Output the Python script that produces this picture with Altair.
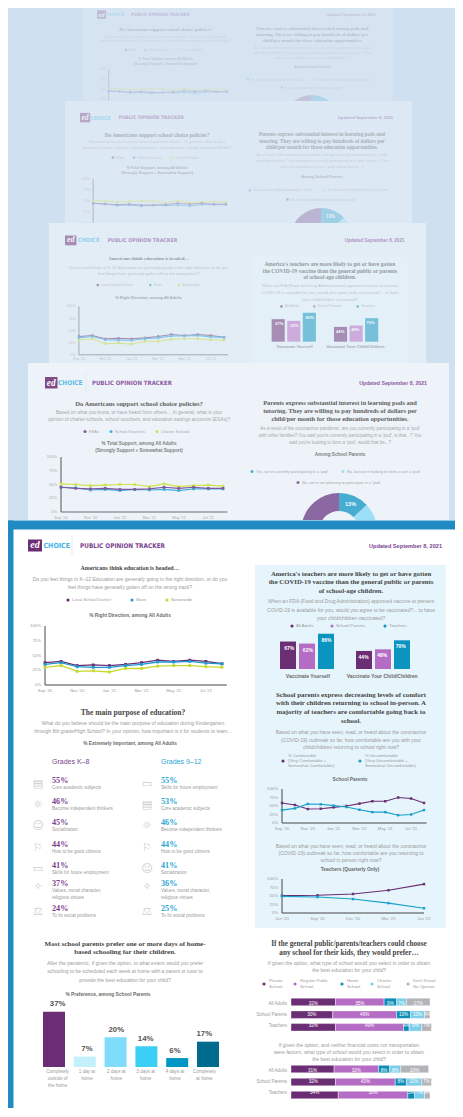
import altair as alt
import pandas as pd

# ---------------- DATA ----------------
months12 = ["Sep '20", "Oct '20", "Nov '20", "Dec '20", "Jan '21", "Feb '21",
            "Mar '21", "Apr '21", "May '21", "Jun '21", "Jul '21", "Aug '21"]
month_tick_idx = [0, 2, 4, 6, 8, 10]
month_ticks = ["Sep '20", "Nov '20", "Jan '21", "Mar '21", "May '21", "Jul '21"]
pct_tick_vals = [0, 25, 50, 75, 100]
pct_ticks = ["0%", "25%", "50%", "75%", "100%"]

direction_series = ["Local School District", "State", "Nationwide"]
direction_local = [38, 40, 33, 34, 33, 35, 38, 42, 40, 42, 40, 36]
direction_state = [35, 38, 31, 30, 30, 33, 35, 39, 39, 40, 37, 36]
direction_nation = [30, 33, 23, 24, 22, 28, 28, 32, 33, 33, 31, 30]

vaccine_questions = ["Vaccinate Yourself", "Vaccinate Your Child/Children"]
vaccine_groups = ["All Adults", "School Parents", "Teachers"]
vaccine_yourself = [67, 62, 86]
vaccine_child = [44, 48, 70]

comfort_series = [["% Comfortable", "(Very Comfortable +", "Somewhat Comfortable)"],
                  ["% Uncomfortable", "(Very Uncomfortable +", "Somewhat Uncomfortable)"]]
parents_comfortable = [59, 53, 41, 42, 46, 50, 57, 64, 64, 75, 72, 59]
parents_uncomfortable = [38, 43, 56, 55, 51, 47, 39, 32, 32, 23, 25, 38]
quarters = ["Jun '20", "Sep '20", "Dec '20", "Mar '21", "Jun '21"]
teachers_comfortable = [51, 52, 56, 67, 85]
teachers_uncomfortable = [49, 47, 41, 29, 14]

purpose_k8_labels = ["Core academic subjects", "Become independent thinkers", "Socialization",
                     "How to be good citizens", "Skills for future employment",
                     "Values, moral character,\nreligious virtues", "To fix social problems"]
purpose_k8_values = [55, 46, 45, 44, 41, 37, 24]
purpose_912_labels = ["Skills for future employment", "Core academic subjects",
                      "Become independent thinkers", "How to be good citizens", "Socialization",
                      "Values, moral character,\nreligious virtues", "To fix social problems"]
purpose_912_values = [55, 53, 46, 44, 41, 36, 25]

home_days = ["Completely\noutside of\nthe home", "1 day at\nhome", "2 days at\nhome",
             "3 days at\nhome", "4 days at\nhome", "Completely\nat home"]
home_values = [37, 7, 20, 14, 6, 17]

school_types = ["Private\nSchool", "Regular Public\nSchool", "Home\nSchool", "Charter\nSchool",
                "Don't Know/\nNo Opinion"]
respondents = ["All Adults", "School Parents", "Teachers"]
prefer_adults = [32, 35, 9, 7, 17]
prefer_parents = [30, 46, 10, 10, 4]
prefer_teachers = [32, 49, 4, 9, 7]
free_adults = [31, 32, 8, 8, 20]
free_parents = [32, 43, 8, 11, 7]
free_teachers = [34, 50, 5, 7, 4]

support_series = ["ESAs", "School Vouchers", "Charter Schools"]
support_esa = [45, 43, 42, 43, 41, 41, 42, 45, 43, 45, 43, 43]
support_vouchers = [45, 44, 40, 41, 39, 41, 40, 41, 39, 42, 42, 42]
support_charter = [51, 50, 48, 49, 50, 50, 46, 51, 46, 48, 49, 47]

pod_labels = ["Yes, we're currently participating in a 'pod'",
              "No, but we're looking to form or join a 'pod'",
              "No, we're not planning to participate in a 'pod'"]
pod_values = [13, 20, 67]

# ---------------- STYLE ----------------
SANS = "Liberation Sans, Arial, sans-serif"
SERIF = "Liberation Serif, Times New Roman, serif"
COND = "Liberation Sans Narrow, DejaVu Sans Condensed, sans-serif"
ICONF = "DejaVu Sans"
OFF = 8
BG = "#cfe1f0"
PURPLE = "#6b2d73"
HDR = "#7b3f91"
TITLE_C = "#454545"
SUB_C = "#9b9b9b"
CT_C = "#6a6a6a"
SUB_FS = 5.0
C_LOCAL, C_STATE, C_NATION = "#6b2d73", "#1e9ad0", "#c6db2e"
VAX_COLORS = ["#6b2d73", "#b56cc4", "#0a94bf"]
COMFORT_COLORS = ["#6b2d73", "#16a0cb"]
HOME_COLORS = ["#6b2d73", "#c4f0fc", "#7fdcfa", "#3ccff6", "#0096c6", "#006b8c"]
SCHOOL_COLORS = ["#6b2d73", "#b56cc4", "#0b8cb8", "#7ccde9", "#b3b3b8"]
SUPPORT_COLORS = ["#6b3d8e", "#29a4d8", "#c9df2c"]
POD_COLORS = ["#2a9fcb", "#8fdcf7", "#7b4f93"]
ICONS = {"Core academic subjects": "▤", "Become independent thinkers": "☼",
         "Socialization": "☺", "How to be good citizens": "⚐",
         "Skills for future employment": "▭",
         "Values, moral character,\nreligious virtues": "✧",
         "To fix social problems": "⚖"}


def mix(c, bg, f):
    c = c.lstrip("#"); bg = bg.lstrip("#")
    a = [int(c[i:i + 2], 16) for i in (0, 2, 4)]
    b = [int(bg[i:i + 2], 16) for i in (0, 2, 4)]
    return "#%02x%02x%02x" % tuple(round(a[i] * (1 - f) + b[i] * f) for i in range(3))


def rect_layer(x0, y0, x1, y1, col):
    df = pd.DataFrame({"x": [x0], "x2": [x1], "y": [y0], "y2": [y1]})
    return alt.Chart(df).mark_rect(color=col).encode(
        x=alt.X("x:Q", scale=None, axis=None), x2="x2:Q",
        y=alt.Y("y:Q", scale=None, axis=None), y2="y2:Q")


class Page:
    def __init__(self, ox, oy, sc, fx, fy, fade, bg):
        self.ox, self.oy, self.sc, self.fx, self.fy = ox, oy, sc, fx, fy
        self.fade, self.bg = fade, bg
        self.texts = []
        self.layers = []

    def X(self, v):
        return self.ox + self.sc * (v - self.fx) - OFF

    def Y(self, v):
        return self.oy + self.sc * (v - self.fy) - OFF

    def S(self, v):
        return v * self.sc

    def C(self, c):
        return mix(c, self.bg, self.fade)

    def sheet(self, x0, y0, x1, y1, fill):
        self.layers.append(rect_layer(x0 - OFF, y0 - OFF, x1 - OFF, y1 - OFF, fill))

    def text(self, x, y, s, size, color, font=SANS, weight="normal", align="center",
             style="normal"):
        self.texts.append(dict(x=self.X(x), y=self.Y(y), t=s, size=self.S(size),
                               c=self.C(color), k=(font, weight, align, style)))

    def rect(self, x0, y0, x1, y1, fill):
        self.layers.append(rect_layer(self.X(x0), self.Y(y0), self.X(x1), self.Y(y1), self.C(fill)))

    def vline(self, x, y0, y1, color, w):
        df = pd.DataFrame({"x": [self.X(x)], "y": [self.Y(y0)], "y2": [self.Y(y1)]})
        self.layers.append(alt.Chart(df).mark_rule(color=self.C(color), strokeWidth=self.S(w)).encode(
            x=alt.X("x:Q", scale=None, axis=None),
            y=alt.Y("y:Q", scale=None, axis=None), y2="y2:Q"))

    def legend(self, items, size, fs, gap=4):
        df = pd.DataFrame([dict(x=self.X(x), y=self.Y(y), c=self.C(c)) for x, y, c, _ in items])
        self.layers.append(alt.Chart(df).mark_circle(size=size * self.sc ** 2, opacity=1).encode(
            x=alt.X("x:Q", scale=None, axis=None), y=alt.Y("y:Q", scale=None, axis=None),
            color=alt.Color("c:N", scale=None, legend=None)))
        for x, y, c, lines in items:
            n = len(lines)
            for k, ln in enumerate(lines):
                self.text(x + gap, y + (k - (n - 1) / 2) * fs * 1.25, ln, fs, SUB_C, align="left")

    def done(self):
        groups = {}
        for r in self.texts:
            groups.setdefault(r["k"], []).append(r)
        for (font, weight, align, style), rows in groups.items():
            df = pd.DataFrame([{kk: v for kk, v in r.items() if kk != "k"} for r in rows])
            self.layers.append(alt.Chart(df).mark_text(
                font=font, fontWeight=weight, align=align, fontStyle=style, baseline="middle").encode(
                x=alt.X("x:Q", scale=None, axis=None), y=alt.Y("y:Q", scale=None, axis=None),
                text="t:N", size=alt.Size("size:Q", scale=None, legend=None),
                color=alt.Color("c:N", scale=None, legend=None)))
        self.texts = []
        return self.layers


def line_chart(pg, n, X0, X1, Yb, Yt, series, tick_idx, tick_lbl, ylab_x, xlab_y, axis_end,
               lw=1.2, pt=9, fs=4.3, axis_col="#333333", axis_w=0.9):
    xs = alt.Scale(domain=[0, n - 1], range=[pg.X(X0), pg.X(X1)], nice=False, zero=False)
    ys = alt.Scale(domain=[0, 100], range=[pg.Y(Yb), pg.Y(Yt)], nice=False, zero=False)
    rows = []
    for name, vals, col in series:
        for i, v in enumerate(vals):
            rows.append(dict(i=i, v=v, s=name, c=pg.C(col)))
    base = alt.Chart(pd.DataFrame(rows))
    enc = dict(x=alt.X("i:Q", scale=xs, axis=None), y=alt.Y("v:Q", scale=ys, axis=None),
               color=alt.Color("c:N", scale=None, legend=None), detail="s:N")
    ax = pd.DataFrame({"i0": [0], "i1": [axis_end], "v0": [0], "v1": [100]})
    pg.layers.append(alt.Chart(ax).mark_rule(color=pg.C(axis_col), strokeWidth=pg.S(axis_w)).encode(
        x=alt.X("i0:Q", scale=xs, axis=None), y=alt.Y("v0:Q", scale=ys, axis=None), y2="v1:Q"))
    pg.layers.append(alt.Chart(ax).mark_rule(color=pg.C(axis_col), strokeWidth=pg.S(axis_w)).encode(
        x=alt.X("i0:Q", scale=xs, axis=None), x2="i1:Q", y=alt.Y("v0:Q", scale=ys, axis=None)))
    pg.layers.append(base.mark_line(strokeWidth=pg.S(lw)).encode(**enc))
    pg.layers.append(base.mark_point(filled=True, size=pt * pg.sc ** 2, opacity=1, shape="square").encode(**enc))
    yt = pd.DataFrame({"v": pct_tick_vals, "t": pct_ticks})
    pg.layers.append(alt.Chart(yt).mark_text(align="right", baseline="middle", font=SANS,
                                             fontSize=pg.S(fs), color=pg.C(SUB_C)).encode(
        x=alt.value(pg.X(ylab_x)), y=alt.Y("v:Q", scale=ys, axis=None), text="t:N"))
    xt = pd.DataFrame({"i": tick_idx, "t": tick_lbl})
    pg.layers.append(alt.Chart(xt).mark_text(align="center", baseline="middle", font=SANS,
                                             fontSize=pg.S(fs), color=pg.C(SUB_C)).encode(
        x=alt.X("i:Q", scale=xs, axis=None), y=alt.value(pg.Y(xlab_y)), text="t:N"))


def vaccine_bars(pg):
    rows = []
    slots = []
    for qi, (q, vals) in enumerate(zip(vaccine_questions, [vaccine_yourself, vaccine_child])):
        if qi > 0:
            slots.append(" ")
        for g, v, col in zip(vaccine_groups, vals, VAX_COLORS):
            key = q + "|" + g
            slots.append(key)
            rows.append(dict(k=key, q=q, g=g, v=v, c=pg.C(col), lbl=f"{v}%"))
    df = pd.DataFrame(rows)
    xs = alt.Scale(domain=slots, range=[pg.X(280), pg.X(410)], paddingInner=0.158, paddingOuter=0)
    ys = alt.Scale(domain=[0, 100], range=[pg.Y(669), pg.Y(628)], nice=False)
    enc = dict(x=alt.X("k:N", scale=xs, axis=None), y=alt.Y("v:Q", scale=ys, axis=None))
    pg.layers.append(alt.Chart(df).mark_bar().encode(
        color=alt.Color("c:N", scale=None, legend=None), **enc))
    pg.layers.append(alt.Chart(df).mark_text(dy=pg.S(6), font=SANS, fontWeight="bold",
                                             fontSize=pg.S(5), color=pg.C("#ffffff")).encode(
        text="lbl:N", **enc))
    qd = df[df["g"] == vaccine_groups[1]]
    pg.layers.append(alt.Chart(qd).mark_text(font=SANS, fontWeight="bold", fontSize=pg.S(5),
                                             color=pg.C("#6a6a6a")).encode(
        x=alt.X("k:N", scale=xs, axis=None), y=alt.value(pg.Y(676)), text="q:N"))


def home_bars(pg):
    df = pd.DataFrame({"d": home_days, "v": home_values,
                       "lbl": [f"{v}%" for v in home_values],
                       "c": [pg.C(c) for c in HOME_COLORS]})
    xs = alt.Scale(domain=home_days, range=[pg.X(43), pg.X(219)], paddingInner=0.286, paddingOuter=0)
    ys = alt.Scale(domain=[0, 100], range=[pg.Y(1067), pg.Y(1067 - 149)], nice=False)
    enc = dict(x=alt.X("d:N", scale=xs, axis=None), y=alt.Y("v:Q", scale=ys, axis=None))
    pg.layers.append(alt.Chart(df).mark_bar().encode(
        color=alt.Color("c:N", scale=None, legend=None), **enc))
    pg.layers.append(alt.Chart(df).mark_text(dy=-pg.S(7.5), font=SANS, fontWeight="bold",
                                             fontSize=pg.S(7.8), color=pg.C("#555555")).encode(
        text="lbl:N", **enc))
    pg.layers.append(alt.Chart(df).mark_text(baseline="top", lineBreak="\n", lineHeight=pg.S(7.2),
                                             font=SANS, fontSize=pg.S(4.6), color=pg.C(SUB_C)).encode(
        x=alt.X("d:N", scale=xs, axis=None), y=alt.value(pg.Y(1069)), text="d:N"))


def stacked(pg, rows_vals, Ytop, step, bh, X0, X1):
    recs = []
    for r, vals in zip(respondents, rows_vals):
        for j, (t, v) in enumerate(zip(school_types, vals)):
            recs.append(dict(r=r, t=t, o=j, v=v, lbl=f"{v}%", c=pg.C(SCHOOL_COLORS[j])))
    df = pd.DataFrame(recs)
    pi = 1 - bh / step
    ys = alt.Scale(domain=respondents, range=[pg.Y(Ytop), pg.Y(Ytop + step * (3 - pi))],
                   paddingInner=pi, paddingOuter=0)
    xs = alt.Scale(domain=[0, 100], range=[pg.X(X0), pg.X(X1)], nice=False, zero=False)
    base = alt.Chart(df).transform_stack(
        stack="v", groupby=["r"], sort=[alt.SortField("o", order="ascending")], as_=["v0", "v1"]
    ).transform_calculate(mid="(datum.v0 + datum.v1) / 2")
    pg.layers.append(base.mark_bar(stroke="#ffffff", strokeWidth=0.4).encode(
        x=alt.X("v0:Q", scale=xs, axis=None), x2="v1:Q", y=alt.Y("r:N", scale=ys, axis=None),
        color=alt.Color("c:N", scale=None, legend=None)))
    pg.layers.append(base.mark_text(font=SANS, fontSize=pg.S(4.6), color="#ffffff").encode(
        x=alt.X("mid:Q", scale=xs, axis=None), y=alt.Y("r:N", scale=ys, axis=None), text="lbl:N"))
    rd = pd.DataFrame({"r": respondents})
    pg.layers.append(alt.Chart(rd).mark_text(align="right", font=SANS, fontSize=pg.S(4.5),
                                             color=pg.C(SUB_C)).encode(
        x=alt.value(pg.X(287)), y=alt.Y("r:N", scale=ys, axis=None), text="r:N"))


def purpose_col(pg, x_icon, x_txt, labels, values, color):
    pct_y = [781, 802, 823, 844.5, 865.5, 884, 909]
    for lab, v, py in zip(labels, values, pct_y):
        pg.text(x_txt, py, f"{v}%", 8.2, color, font=SERIF, weight="bold", align="left")
        for k, ln in enumerate(lab.split("\n")):
            pg.text(x_txt, py + 7 + 7 * k, ln, 4.6, SUB_C, align="left")
        pg.text(x_icon, py + 3, ICONS[lab], 11, "#cdcdcd", font=ICONF)


def front(pg, full=True):
    # header
    pg.rect(28, 539.5, 42, 551.5, PURPLE)
    pg.text(35, 545.3, "ed", 10, "#ffffff", font=SERIF, weight="bold", style="italic")
    pg.text(43.5, 545.5, "CHOICE", 7, "#43b5e6", font=COND, weight="bold", align="left")
    pg.vline(72, 535, 556, "#e2e2e2", 0.7)
    pg.text(80, 545.5, "PUBLIC OPINION TRACKER", 6.4, HDR, font=COND, weight="bold", align="left")
    pg.text(442, 546, "Updated September 8, 2021", 5.6, HDR, weight="bold", align="right")

    # left: direction
    pg.text(130, 568, "Americans think education is headed…", 5.9, TITLE_C, font=SERIF, weight="bold")
    pg.text(130, 579, "Do you feel things in K–12 Education are generally going in the right direction, or do you", SUB_FS, SUB_C)
    pg.text(130, 586.5, "feel things have generally gotten off on the wrong track?", SUB_FS, SUB_C)
    pg.legend([(68, 600, C_LOCAL, [direction_series[0]]), (132, 600, C_STATE, [direction_series[1]]),
               (167, 600, C_NATION, [direction_series[2]])], 10, 4.3)
    pg.text(130, 616, "% Right Direction, among All Adults", 4.8, CT_C, weight="bold")
    line_chart(pg, 12, 45, 222, 685, 626,
               [(direction_series[0], direction_local, C_LOCAL),
                (direction_series[1], direction_state, C_STATE),
                (direction_series[2], direction_nation, C_NATION)],
               month_tick_idx, month_ticks, 41, 690.5, 11.3, lw=1.3, pt=8)

    # right box: vaccines
    pg.rect(255, 565, 446, 928, "#e6f4fb")
    for y, s in zip([574, 582.3, 590.6],
                    ["America's teachers are more likely to get or have gotten",
                     "the COVID-19 vaccine than the general public or parents",
                     "of school-age children."]):
        pg.text(351, y, s, 6.75, TITLE_C, font=SERIF, weight="bold")
    for y, s in zip([601, 609.5, 618],
                    ["When an FDA (Food and Drug Administration) approved vaccine to prevent",
                     "COVID-19 is available for you, would you agree to be vaccinated?... to have",
                     "your child/children vaccinated?"]):
        pg.text(351, y, s, SUB_FS, SUB_C)
    pg.legend([(292, 626, VAX_COLORS[0], [vaccine_groups[0]]), (332, 626, VAX_COLORS[1], [vaccine_groups[1]]),
               (385, 626, VAX_COLORS[2], [vaccine_groups[2]])], 10, 4.3)
    vaccine_bars(pg)
    if not full:
        return

    # right: comfort
    for y, s in zip([694.5, 703.3, 712, 720.6],
                    ["School parents express decreasing levels of comfort",
                     "with their children returning to school in-person. A",
                     "majority of teachers are comfortable going back to", "school."]):
        pg.text(351, y, s, 6.9, TITLE_C, font=SERIF, weight="bold")
    for y, s in zip([732, 739.5, 747],
                    ["Based on what you have seen, read, or heard about the coronavirus",
                     "(COVID-19) outbreak so far, how comfortable are you with your",
                     "child/children returning to school right now?"]):
        pg.text(351, y, s, SUB_FS, SUB_C)
    pg.legend([(283, 761, COMFORT_COLORS[0], comfort_series[0]),
               (360, 761, COMFORT_COLORS[1], comfort_series[1])], 10, 4.3, gap=5)
    pg.text(350, 780, "School Parents", 4.8, CT_C, weight="bold")
    line_chart(pg, 12, 282, 424, 823, 789,
               [("comf", parents_comfortable, COMFORT_COLORS[0]),
                ("uncomf", parents_uncomfortable, COMFORT_COLORS[1])],
               month_tick_idx, month_ticks, 278, 829, 11.2, lw=1.1, pt=6)
    for y, s in zip([846, 853, 859.5],
                    ["Based on what you have seen, read, or heard about the coronavirus",
                     "(COVID-19) outbreak so far, how comfortable are you returning to",
                     "school in person right now?"]):
        pg.text(351, y, s, SUB_FS, SUB_C)
    pg.text(350, 870, "Teachers (Quarterly Only)", 4.8, CT_C, weight="bold")
    line_chart(pg, 5, 282, 424, 913, 879,
               [("comf", teachers_comfortable, COMFORT_COLORS[0]),
                ("uncomf", teachers_uncomfortable, COMFORT_COLORS[1])],
               [0, 1, 2, 3, 4], quarters, 278, 919, 4.0, lw=1.1, pt=6)

    # left: purpose
    pg.text(133, 712.5, "The main purpose of education?", 7.6, TITLE_C, font=SERIF, weight="bold")
    pg.text(133, 723, "What do you believe should be the main purpose of education during Kindergarten", SUB_FS, SUB_C)
    pg.text(133, 731, "through 8th grade/High School? In your opinion, how important is it for students to learn...", SUB_FS, SUB_C)
    pg.text(130, 744, "% Extremely Important, among All Adults", 4.8, CT_C, weight="bold")
    pg.text(52, 762, "Grades K–8", 7, HDR, align="left")
    pg.text(161, 762, "Grades 9–12", 7, "#29a8d4", align="left")
    purpose_col(pg, 38, 52, purpose_k8_labels, purpose_k8_values, HDR)
    purpose_col(pg, 147, 161, purpose_912_labels, purpose_912_values, "#29a8d4")

    # left bottom: home schooling
    pg.text(125, 943.5, "Most school parents prefer one or more days of home-", 7, TITLE_C, font=SERIF, weight="bold")
    pg.text(125, 952, "based schooling for their children.", 7, TITLE_C, font=SERIF, weight="bold")
    for y, s in zip([962.5, 971, 980],
                    ["After the pandemic, if given the option, to what extent would you prefer",
                     "schooling to be scheduled each week at home with a parent or tutor to",
                     "provide the best education for your child?"]):
        pg.text(125, y, s, SUB_FS, SUB_C)
    pg.text(108, 994.5, "% Preference, among School Parents", 4.8, CT_C, weight="bold")
    home_bars(pg)

    # right bottom: school preference
    pg.text(349, 944, "If the general public/parents/teachers could choose", 7.2, TITLE_C, font=SERIF, weight="bold")
    pg.text(349, 953, "any school for their kids, they would prefer…", 7.2, TITLE_C, font=SERIF, weight="bold")
    pg.text(349, 963, "If given the option, what type of school would you select in order to obtain", SUB_FS, SUB_C)
    pg.text(349, 970, "the best education for your child?", SUB_FS, SUB_C)
    lx = [264, 295, 342, 372, 408]
    pg.legend([(x, 984, c, t.split("\n")) for x, c, t in zip(lx, SCHOOL_COLORS, school_types)], 10, 4.3, gap=5)
    stacked(pg, [prefer_adults, prefer_parents, prefer_teachers], 998.2, 12.7, 7.5, 291, 430)
    for y, s in zip([1045, 1052, 1059],
                    ["If given the option, and neither financial costs nor transportation",
                     "were factors, what type of school would you select in order to obtain",
                     "the best education for your child?"]):
        pg.text(349, y, s, SUB_FS, SUB_C)
    stacked(pg, [free_adults, free_parents, free_teachers], 1065.3, 13, 7.5, 291, 430)


def choice(pg):
    pg.rect(45, 377, 57.5, 388.5, PURPLE)
    pg.text(51.2, 382.7, "ed", 9.3, "#ffffff", font=SERIF, weight="bold", style="italic")
    pg.text(58, 382.7, "CHOICE", 6.5, "#43b5e6", font=COND, weight="bold", align="left")
    pg.vline(86, 372, 393, "#dde3ea", 0.7)
    pg.text(92, 382.7, "PUBLIC OPINION TRACKER", 6.0, HDR, font=COND, weight="bold", align="left")
    pg.text(427, 382.7, "Updated September 8, 2021", 5.2, HDR, weight="bold", align="right")

    pg.text(139, 403.5, "Do Americans support school choice policies?", 6.6, TITLE_C, font=SERIF, weight="bold")
    pg.text(139, 413, "Based on what you know, or have heard from others… In general, what is your", 4.8, SUB_C)
    pg.text(139, 419.5, "opinion of charter schools, school vouchers, and education savings accounts (ESAs)?", 4.8, SUB_C)
    pg.legend([(85, 431.5, SUPPORT_COLORS[0], [support_series[0]]),
               (111, 431.5, SUPPORT_COLORS[1], [support_series[1]]),
               (157, 431.5, SUPPORT_COLORS[2], [support_series[2]])], 9, 4.0)
    pg.text(139, 444, "% Total Support, among All Adults", 4.6, CT_C, weight="bold")
    pg.text(139, 450.5, "(Strongly Support + Somewhat Support)", 4.6, CT_C, weight="bold")
    line_chart(pg, 12, 61, 223, 512, 457,
               [(support_series[2], support_charter, SUPPORT_COLORS[2]),
                (support_series[1], support_vouchers, SUPPORT_COLORS[1]),
                (support_series[0], support_esa, SUPPORT_COLORS[0])],
               month_tick_idx, month_ticks, 57, 517.5, 11.3, lw=1.2, pt=7, fs=4.0,
               axis_col="#555555", axis_w=1.2)

    for y, s in zip([403, 411, 419],
                    ["Parents express substantial interest in learning pods and",
                     "tutoring. They are willing to pay hundreds of dollars per",
                     "child/per month for those education opportunities."]):
        pg.text(340, y, s, 6.4, TITLE_C, font=SERIF, weight="bold")
    for y, s in zip([428.5, 435.5, 442.5],
                    ["As a result of the coronavirus pandemic, are you currently participating in a 'pod'",
                     "with other families? You said you're currently participating in a 'pod', is that...? You",
                     "said you're looking to form a 'pod', would that be...?"]):
        pg.text(340, y, s, 4.5, SUB_C)
    pg.text(340, 455, "Among School Parents", 4.6, CT_C, weight="bold")
    pg.legend([(252, 471.5, POD_COLORS[0], [pod_labels[0]]), (343, 471.5, POD_COLORS[1], [pod_labels[1]]),
               (298, 482.5, POD_COLORS[2], [pod_labels[2]])], 9, 3.9)
    # only the first slice's label lies on the visible part of the sheet
    df = pd.DataFrame({"p": pod_labels, "v": pod_values, "o": [0, 1, 2],
                       "lbl": [f"{v}%" if i == 0 else "" for i, v in enumerate(pod_values)],
                       "c": [pg.C(c) for c in POD_COLORS]})
    cx, cy = pg.X(339), pg.Y(531)
    pg.layers.append(alt.Chart(df).mark_arc(radius=pg.S(38), radius2=pg.S(20)).encode(
        theta=alt.Theta("v:Q", stack=True), order=alt.Order("o:Q"),
        color=alt.Color("c:N", scale=None, legend=None), x=alt.value(cx), y=alt.value(cy)))
    pg.layers.append(alt.Chart(df).mark_text(radius=pg.S(29), font=SANS, fontWeight="bold",
                                             fontSize=pg.S(5.5), color=pg.C("#ffffff")).encode(
        theta=alt.Theta("v:Q", stack=True), order=alt.Order("o:Q"),
        x=alt.value(cx), y=alt.value(cy), text="lbl:N"))


# ---------------- BUILD ----------------
layers = []

p1 = Page(97, 14, 0.73, 45, 382, 0.78, "#d6e4f1")
p1.sheet(83, 0, 393, 130, "#d6e4f1")
choice(p1)
layers += p1.done()

p2 = Page(80, 117, 0.82, 45, 382, 0.66, "#dce8f3")
p2.sheet(65, 101, 412, 260, "#dce8f3")
choice(p2)
layers += p2.done()

p3 = Page(65, 240, 0.82, 28, 545, 0.5, "#e3edf6")
p3.sheet(49, 223, 426, 400, "#e3edf6")
front(p3, full=False)
layers += p3.done()

p4 = Page(0, 0, 1.0, 0, 0, 0.15, "#eef3f9")
p4.sheet(28, 363, 449, 560, "#eef3f9")
choice(p4)
layers += p4.done()

p5 = Page(0, 0, 1.0, 0, 0, 0.0, "#ffffff")
p5.sheet(4, 520, 475, 1125, "#ffffff")
p5.sheet(4, 520.5, 13.5, 1125, "#1f8bc2")
p5.sheet(4, 520.5, 475, 529.5, "#1f8bc2")
p5.sheet(4, 1113.5, 475, 1115.5, "#3aa3d8")
front(p5, full=True)
layers += p5.done()

chart = alt.layer(*layers).resolve_scale(
    x="independent", y="independent", theta="independent"
).properties(
    width=447, height=1100, background=BG, padding=0,
    autosize=alt.AutoSizeParams(type="none")
).configure_view(stroke=None)

chart.save("out.html", embed_options={"renderer": "svg", "actions": False})
